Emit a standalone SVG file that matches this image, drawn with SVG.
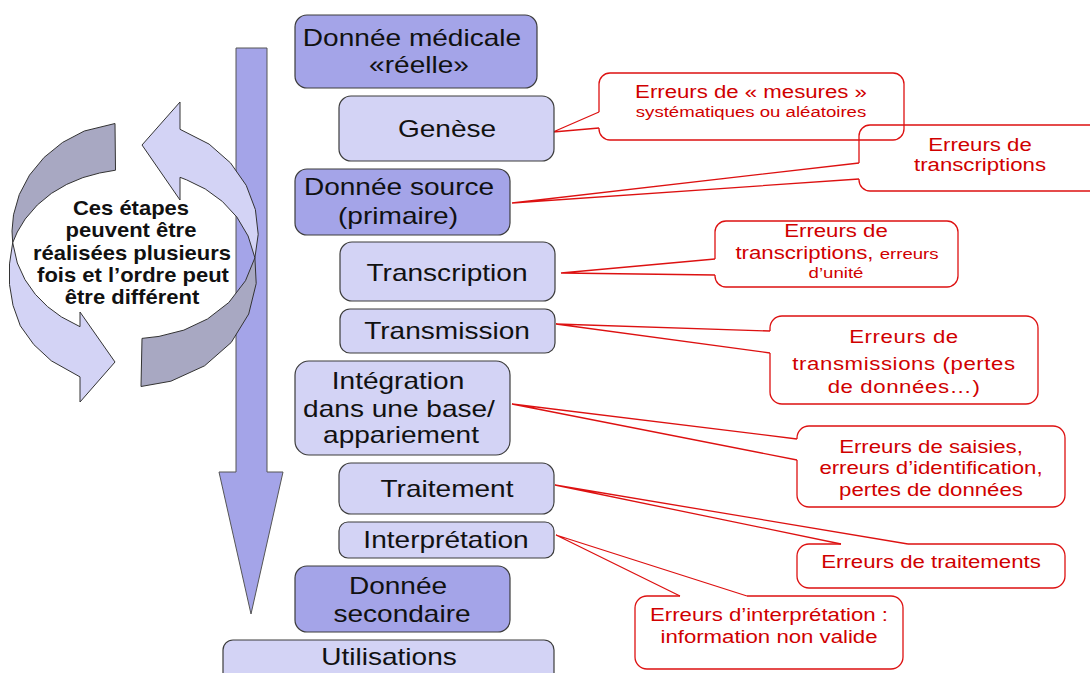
<svg xmlns="http://www.w3.org/2000/svg" width="1090" height="673" viewBox="0 0 1090 673">
<style>
.nd{fill:#a4a4e8;stroke:#3c3c3c;stroke-width:1.2}
.nl{fill:#d3d3f5;stroke:#3c3c3c;stroke-width:1.2}
.nt{font-family:"Liberation Sans",Arial,sans-serif;font-size:23px;fill:#111;text-anchor:middle}
.cb{fill:none;stroke:#dd1111;stroke-width:1.3}
.cn{fill:none;stroke:#dd1111;stroke-width:1.3}
.ct{font-family:"Liberation Sans",Arial,sans-serif;font-size:18.5px;fill:#d00000;text-anchor:middle}
.cs{font-size:15.5px}
.ad{fill:#a8a8c2;stroke:#333;stroke-width:1;stroke-linejoin:round}
.al{fill:#d3d3f5;stroke:#333;stroke-width:1;stroke-linejoin:round}
.at{font-family:"Liberation Sans",Arial,sans-serif;font-size:20px;font-weight:bold;fill:#111;text-anchor:middle}
.flow{fill:#a4a4e8;stroke:#555;stroke-width:1}
</style>
<rect width="1090" height="673" fill="#fff"/>

<g id="flow-arrow">
<path class="flow" d="M236,48 H267 V472 H283 L251,614 L219,472 H236 Z"/>
</g>

<g id="cycle">
<path class="ad" d="M115,123.5 L84.3,131 L62.6,142.4 L44.1,157.4 L29.5,175.1 L19.3,194.5 L13.5,214.8 L12,230.9 L12.7,242.7 L17.3,232 L25.2,219 L37.3,205 L51.4,193.4 L66.7,184.4 L82.9,177.6 L99.6,173 L115.5,170.2 Z"/>
<path class="al" d="M12.7,242.7 L17.3,263 L25,279.7 L35.3,294.3 L47.6,306.7 L61.4,316.9 L80,326.7 L80,312 L115,362 L80,402 L80,376.9 L51.3,360.8 L33.8,344.6 L20.3,325.8 L13,305.4 L9.5,284.5 L9.5,263.9 Z"/>
<path class="ad" d="M141,386.5 L170.9,381.2 L204.6,365.8 L231.2,342.5 L248.7,314 L256.2,283.5 L254.9,257.8 L245.5,280.7 L228.8,302.5 L207.6,318.9 L183.9,330.1 L159,336.4 L142,338.4 Z"/>
<path class="al" d="M254.9,257.8 L248.1,236 L236.9,217.1 L222.3,201.4 L205.3,189 L186.7,179.9 L180,177.3 L180,200 L142,145 L180,102 L180,129.3 L209.1,144.1 L230.5,162.9 L246.2,185.3 L255.4,209.6 L258.2,234.3 Z"/>
<text class="at" transform="translate(131,215) scale(1.1,1)">Ces étapes</text>
<text class="at" transform="translate(131,237) scale(1.1,1)">peuvent être</text>
<text class="at" transform="translate(132,260) scale(1.1,1)">réalisées plusieurs</text>
<text class="at" transform="translate(133,282) scale(1.1,1)">fois et l’ordre peut</text>
<text class="at" transform="translate(132,304) scale(1.1,1)">être différent</text>
</g>

<g id="connectors">
<polyline class="cn" points="599,112 553,132 599,128"/>
<polyline class="cn" points="859,163 512,203 859,179"/>
<polyline class="cn" points="715,259 561,273 715,275"/>
<polyline class="cn" points="770,331 556,324 770,353"/>
<polyline class="cn" points="797,439 512,404 797,460"/>
<polyline class="cn" points="841,544 555,485 908,544"/>
<polyline class="cn" points="680,596 556,535 747,596"/>
</g>

<g id="node-medicale">
<rect class="nd" x="295" y="15" width="242" height="73" rx="12"/>
<text class="nt" transform="translate(412,46) scale(1.22,1)">Donnée médicale</text>
<text class="nt" transform="translate(419,73) scale(1.22,1)">«réelle»</text>
</g>
<g id="node-genese">
<rect class="nl" x="339" y="96" width="215" height="65" rx="12"/>
<text class="nt" transform="translate(447,137) scale(1.22,1)">Genèse</text>
</g>
<g id="node-source">
<rect class="nd" x="295" y="169" width="215" height="66" rx="12"/>
<text class="nt" transform="translate(399,195) scale(1.22,1)">Donnée source</text>
<text class="nt" transform="translate(398,224) scale(1.22,1)">(primaire)</text>
</g>
<g id="node-transcription">
<rect class="nl" x="340" y="242" width="215" height="59" rx="12"/>
<text class="nt" transform="translate(447,281) scale(1.22,1)">Transcription</text>
</g>
<g id="node-transmission">
<rect class="nl" x="340" y="309" width="215" height="44" rx="10"/>
<text class="nt" transform="translate(447,339) scale(1.22,1)">Transmission</text>
</g>
<g id="node-integration">
<rect class="nl" x="295" y="361" width="215" height="94" rx="14"/>
<text class="nt" transform="translate(398,389) scale(1.22,1)">Intégration</text>
<text class="nt" transform="translate(399,417) scale(1.22,1)">dans une base/</text>
<text class="nt" transform="translate(401,443) scale(1.22,1)">appariement</text>
</g>
<g id="node-traitement">
<rect class="nl" x="339" y="463" width="215" height="51" rx="12"/>
<text class="nt" transform="translate(447,497) scale(1.22,1)">Traitement</text>
</g>
<g id="node-interpretation">
<rect class="nl" x="339" y="522" width="215" height="36" rx="9"/>
<text class="nt" transform="translate(446,548) scale(1.22,1)">Interprétation</text>
</g>
<g id="node-secondaire">
<rect class="nd" x="295" y="566" width="215" height="66" rx="12"/>
<text class="nt" transform="translate(398,594) scale(1.22,1)">Donnée</text>
<text class="nt" transform="translate(402,622) scale(1.22,1)">secondaire</text>
</g>
<g id="node-utilisations">
<rect class="nl" x="223" y="640" width="331" height="50" rx="10"/>
<text class="nt" transform="translate(389,665) scale(1.22,1)">Utilisations</text>
</g>

<g id="callout-mesures">
<path class="cb" d="M599,128 V129 A11,11 0 0 0 610,140 H893 A11,11 0 0 0 904,129 V84 A11,11 0 0 0 893,73 H610 A11,11 0 0 0 599,84 V112"/>
<text class="ct" transform="translate(751,98) scale(1.2,1)">Erreurs de « mesures »</text>
<text class="ct cs" transform="translate(751,117) scale(1.2,1)">systématiques ou aléatoires</text>
</g>
<g id="callout-transcriptions">
<path class="cb" d="M859,179 V180 A11,11 0 0 0 870,191 H1104 A11,11 0 0 0 1115,180 V136 A11,11 0 0 0 1104,125 H870 A11,11 0 0 0 859,136 V163"/>
<text class="ct" transform="translate(980,151) scale(1.2,1)">Erreurs de</text>
<text class="ct" transform="translate(980,171) scale(1.2,1)">transcriptions</text>
</g>
<g id="callout-unite">
<path class="cb" d="M715,275 V276 A11,11 0 0 0 726,287 H947 A11,11 0 0 0 958,276 V232 A11,11 0 0 0 947,221 H726 A11,11 0 0 0 715,232 V259"/>
<text class="ct" transform="translate(836,237) scale(1.2,1)">Erreurs de</text>
<text class="ct" transform="translate(837,259) scale(1.2,1)">transcriptions, <tspan class="cs">erreurs</tspan></text>
<text class="ct cs" transform="translate(836,278) scale(1.2,1)">d’unité</text>
</g>
<g id="callout-transmissions">
<path class="cb" d="M770,353 V392 A12,12 0 0 0 782,404 H1026 A12,12 0 0 0 1038,392 V328 A12,12 0 0 0 1026,316 H782 A12,12 0 0 0 770,328 V331"/>
<text class="ct" transform="translate(904,343) scale(1.2,1)" letter-spacing="0.5">Erreurs de</text>
<text class="ct" transform="translate(904,370) scale(1.2,1)" letter-spacing="0.5">transmissions (pertes</text>
<text class="ct" transform="translate(904,393) scale(1.2,1)" letter-spacing="0.5">de données…)</text>
</g>
<g id="callout-saisies">
<path class="cb" d="M797,460 V495 A12,12 0 0 0 809,507 H1053 A12,12 0 0 0 1065,495 V438 A12,12 0 0 0 1053,426 H809 A12,12 0 0 0 797,438 V439"/>
<text class="ct" transform="translate(931,453) scale(1.2,1)">Erreurs de saisies,</text>
<text class="ct" transform="translate(931,474) scale(1.2,1)">erreurs d’identification,</text>
<text class="ct" transform="translate(931,496) scale(1.2,1)">pertes de données</text>
</g>
<g id="callout-traitements">
<path class="cb" d="M908,544 H1053 A12,12 0 0 1 1065,556 V576 A12,12 0 0 1 1053,588 H809 A12,12 0 0 1 797,576 V556 A12,12 0 0 1 809,544 H841"/>
<text class="ct" transform="translate(931,568) scale(1.2,1)">Erreurs de traitements</text>
</g>
<g id="callout-interpretation">
<path class="cb" d="M747,596 H891 A12,12 0 0 1 903,608 V657 A12,12 0 0 1 891,669 H647 A12,12 0 0 1 635,657 V608 A12,12 0 0 1 647,596 H680"/>
<text class="ct" transform="translate(769,621) scale(1.2,1)">Erreurs d’interprétation :</text>
<text class="ct" transform="translate(769,643) scale(1.2,1)">information non valide</text>
</g>
</svg>
